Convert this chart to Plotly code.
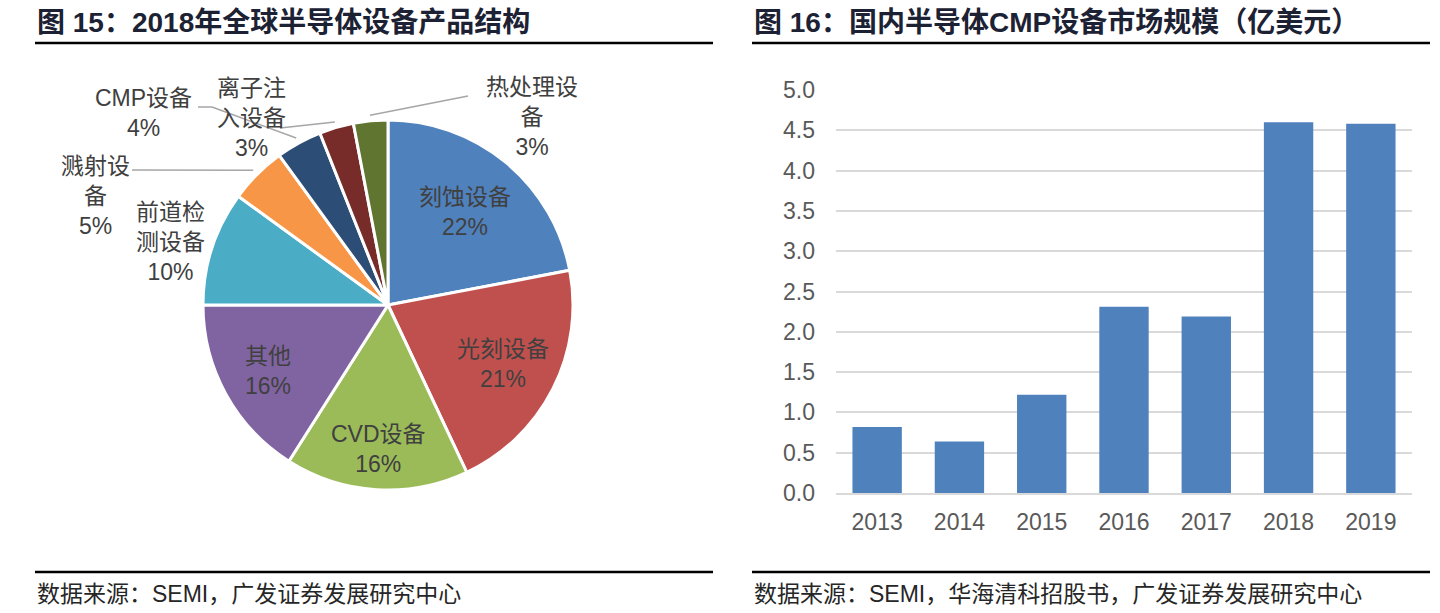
import math
import plotly.graph_objects as go

# ---------------- data ----------------
pie_categories = ["刻蚀设备", "光刻设备", "CVD设备", "其他", "前道检测设备",
                  "溅射设备", "CMP设备", "离子注入设备", "热处理设备"]
pie_display = ["刻蚀设备", "光刻设备", "CVD设备", "其他", "前道检<br>测设备",
               "溅射设<br>备", "CMP设备", "离子注<br>入设备", "热处理设<br>备"]
pie_values = [22, 21, 16, 16, 10, 5, 4, 3, 3]
pie_colors = ["#4F81BD", "#C0504D", "#9BBB59", "#8064A2", "#4BACC6",
              "#F79646", "#2C4D75", "#772C2A", "#5F7530"]

bar_years = ["2013", "2014", "2015", "2016", "2017", "2018", "2019"]
bar_values = [0.82, 0.64, 1.22, 2.31, 2.19, 4.60, 4.58]
y_ticks = [0, 0.5, 1.0, 1.5, 2.0, 2.5, 3.0, 3.5, 4.0, 4.5, 5.0]

title_left = "图 15：2018年全球半导体设备产品结构"
title_right = "图 16：国内半导体CMP设备市场规模（亿美元）"
source_left = "数据来源：SEMI，广发证券发展研究中心"
source_right = "数据来源：SEMI，华海清科招股书，广发证券发展研究中心"

# ---------------- layout constants ----------------
W, H = 1440, 613
FONT = "Liberation Sans, Arial, Noto Sans CJK SC, sans-serif"
TXT = "#404040"
PIE_CX, PIE_CY, PIE_R = 388, 305, 185

def px(x):
    return x / W

def py(y):
    return 1 - y / H

fig = go.Figure()

fig.add_trace(go.Pie(
    labels=pie_categories, values=pie_values, sort=False, direction="clockwise",
    rotation=0, marker=dict(colors=pie_colors, line=dict(color="white", width=3)),
    textinfo="none", hoverinfo="label+percent", showlegend=False,
    domain=dict(x=[px(PIE_CX - PIE_R), px(PIE_CX + PIE_R)],
                y=[py(PIE_CY + PIE_R), py(PIE_CY - PIE_R)]),
))

fig.add_trace(go.Bar(
    x=bar_years, y=bar_values, marker=dict(color="#4F81BD", line=dict(width=0)),
    showlegend=False, xaxis="x", yaxis="y",
))

# ---------------- pie labels ----------------
# inside labels: radial factor; outside labels: text center, leader start, elbow (pixels)
inside_r = {0: 0.65, 1: 0.70, 2: 0.78, 3: 0.74}
outside_pos = {
    4: ((170, 242), None, None),
    5: ((95, 196), (132, 170), None),
    6: ((143, 113), (198, 107), (212, 107)),
    7: ((252, 118), (280, 128), None),
    8: ((532, 117), (468, 96), None),
}

annotations = []
shapes = []
total = sum(pie_values)
cum = 0
for i, v in enumerate(pie_values):
    mid = 2 * math.pi * (cum + v / 2) / total
    cum += v
    label = f"{pie_display[i]}<br>{v}%"
    if i in inside_r:
        r = inside_r[i] * PIE_R
        tx = PIE_CX + r * math.sin(mid)
        ty = PIE_CY - r * math.cos(mid)
    else:
        (tx, ty), lstart, elbow = outside_pos[i]
        if lstart is not None:
            ex = PIE_CX + 1.03 * PIE_R * math.sin(mid)
            ey = PIE_CY - 1.03 * PIE_R * math.cos(mid)
            pts = [lstart] + ([elbow] if elbow else []) + [(ex, ey)]
            for (ax0, ay0), (ax1, ay1) in zip(pts[:-1], pts[1:]):
                shapes.append(dict(type="line", xref="paper", yref="paper",
                                   x0=px(ax0), y0=py(ay0), x1=px(ax1), y1=py(ay1),
                                   line=dict(color="#A6A6A6", width=1.5)))
    annotations.append(dict(x=px(tx), y=py(ty), xref="paper", yref="paper",
                            text=label, showarrow=False, xanchor="center",
                            yanchor="middle", align="center",
                            font=dict(family=FONT, size=23, color=TXT)))

# ---------------- titles / sources ----------------
for x0, x1, t, s in [(35, 713, title_left, source_left),
                     (752, 1430, title_right, source_right)]:
    annotations.append(dict(x=px(x0), y=py(22), xref="paper", yref="paper",
                            text=f"<b>{t}</b>", showarrow=False, xanchor="left",
                            yanchor="middle",
                            font=dict(family=FONT, size=28, color="#1C2233")))
    annotations.append(dict(x=px(x0), y=py(594), xref="paper", yref="paper",
                            text=s, showarrow=False, xanchor="left",
                            yanchor="middle",
                            font=dict(family=FONT, size=23, color="#262626")))
    for yy in (43, 572):
        shapes.append(dict(type="line", xref="paper", yref="paper",
                           x0=px(x0), x1=px(x1), y0=py(yy), y1=py(yy),
                           line=dict(color="black", width=2.5)))

fig.update_layout(
    width=W, height=H, margin=dict(l=0, r=0, t=0, b=0, pad=0),
    paper_bgcolor="white", plot_bgcolor="white",
    font=dict(family=FONT, color="#595959"),
    bargap=0.40,
    xaxis=dict(domain=[px(836), px(1412)], showgrid=False, showline=True,
               linecolor="#D9D9D9", linewidth=1.5, ticks="", fixedrange=True,
               automargin=False, ticklabelstandoff=8,
               tickfont=dict(family=FONT, size=23, color="#595959")),
    yaxis=dict(domain=[py(493), py(90)], range=[0, 5], tickvals=y_ticks,
               tickformat=".1f", showgrid=True, gridcolor="#D9D9D9", gridwidth=1.5,
               zeroline=False, showline=False, ticks="", ticklabelstandoff=20,
               automargin=False, fixedrange=True,
               tickfont=dict(family=FONT, size=23, color="#595959")),
    annotations=annotations, shapes=shapes,
)

fig.write_html(
    "out.html",
    config={"displayModeBar": False},
    post_script="document.body.style.margin='0';document.body.style.overflow='hidden';"
                "document.documentElement.style.overflow='hidden';",
)
